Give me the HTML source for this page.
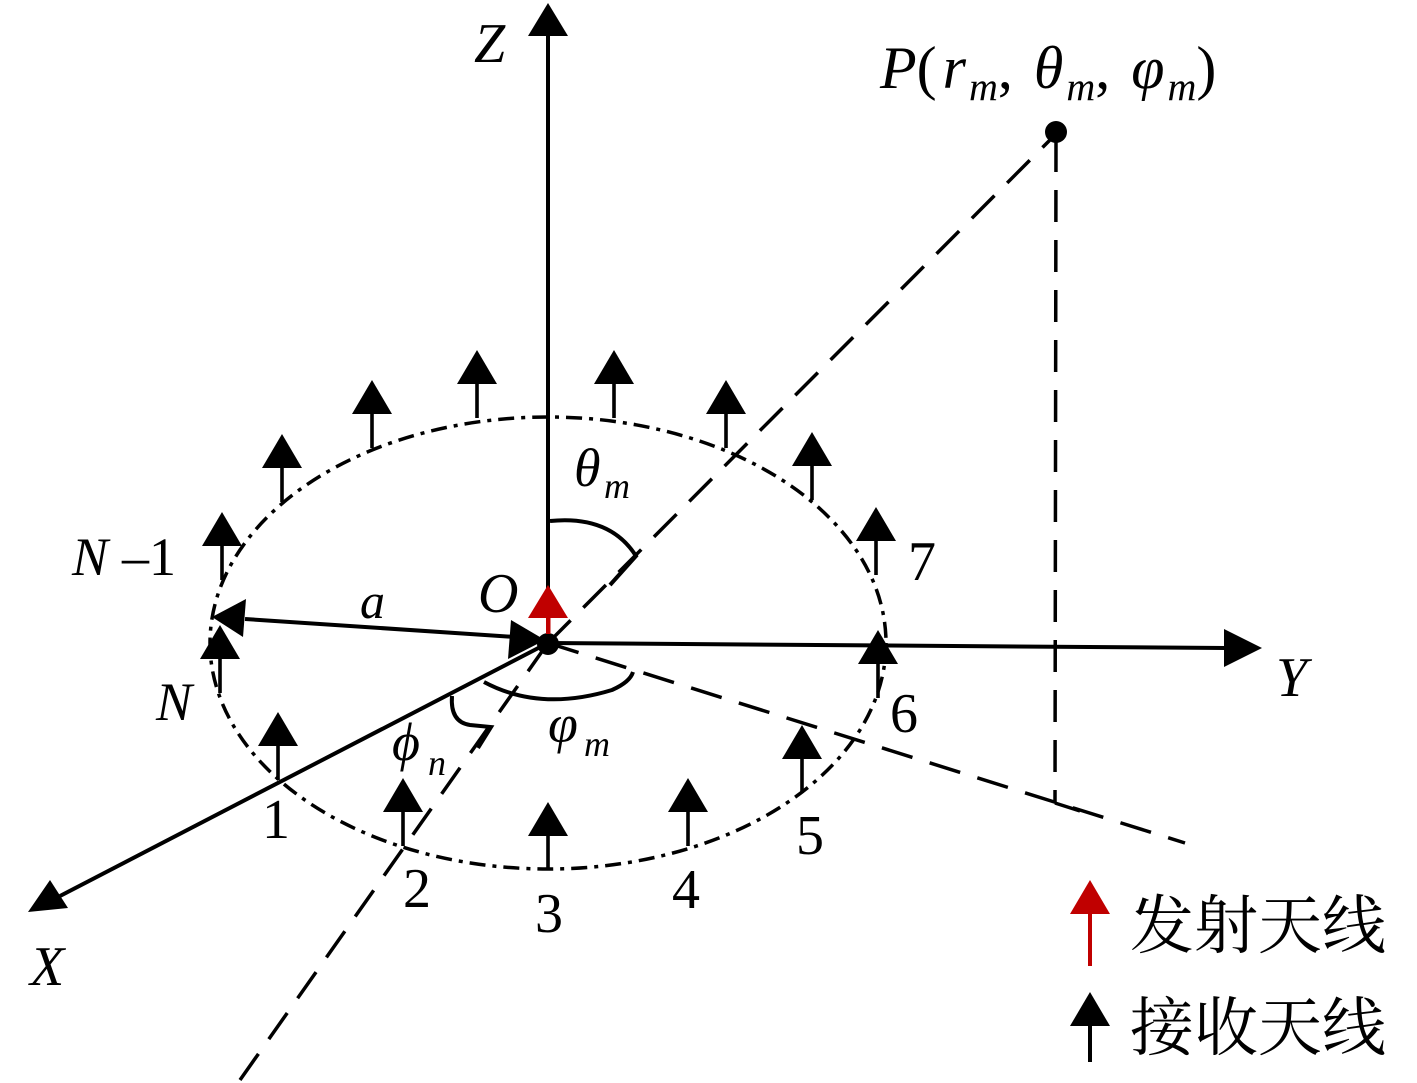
<!DOCTYPE html>
<html><head><meta charset="utf-8"><style>
html,body{margin:0;padding:0;background:#fff;}
svg{display:block;}
.t{font-family:"Liberation Serif",serif;font-style:italic;fill:#000;}
.n{font-family:"Liberation Serif",serif;fill:#000;}
.c{font-family:"Liberation Serif","Noto Serif CJK SC",serif;fill:#000;}
</style></head><body>
<svg width="1417" height="1083" viewBox="0 0 1417 1083" xmlns="http://www.w3.org/2000/svg">
<defs>
<g id="ant"><polygon points="0,0 -20,34 20,34" fill="#000"/><rect x="-1.8" y="30" width="3.6" height="38" fill="#000"/></g>
</defs>
<ellipse cx="548" cy="643" rx="338" ry="226" fill="none" stroke="#000" stroke-width="3.5" stroke-dasharray="16,7,4,7"/>
<g stroke="#000" stroke-width="3.5" fill="none" stroke-dasharray="32,18">
<line x1="240" y1="1080" x2="548" y2="643"/>
<line x1="548" y1="643" x2="1058" y2="132"/>
<line x1="548" y1="643" x2="1185" y2="843"/>
<line x1="1056" y1="140" x2="1055" y2="803"/>
</g>
<line x1="1055" y1="803" x2="1080" y2="811" stroke="#000" stroke-width="3.5"/>
<g stroke="#000" stroke-width="4" fill="none">
<line x1="548" y1="643" x2="548" y2="30"/>
<line x1="548" y1="643" x2="1225" y2="648"/>
<line x1="548" y1="643" x2="60" y2="896"/>
<line x1="245" y1="619" x2="515" y2="637"/>
<path d="M550 521 Q610 515 636 556 L610 585"/>
<path d="M484 682 Q540 712 612 690 Q630 682 633 672"/>
<path d="M452 696 Q450 722 470 725 L491 727 L478 748"/>
</g>
<polygon points="548,3 528,36 568,36" fill="#000"/>
<polygon points="1262,648 1224,629 1224,667" fill="#000"/>
<polygon points="28,912 50,880 68,908" fill="#000"/>
<polygon points="212,617 246,599 243,637" fill="#000"/>
<polygon points="545,640 511,620 508,659" fill="#000"/>
<use href="#ant" x="282" y="434"/>
<use href="#ant" x="372" y="380"/>
<use href="#ant" x="477" y="350"/>
<use href="#ant" x="614" y="350"/>
<use href="#ant" x="726" y="380"/>
<use href="#ant" x="812" y="432"/>
<use href="#ant" x="876" y="507"/>
<use href="#ant" x="878" y="630"/>
<use href="#ant" x="222" y="512"/>
<use href="#ant" x="220" y="625"/>
<use href="#ant" x="278" y="712"/>
<use href="#ant" x="403" y="778"/>
<use href="#ant" x="548" y="802"/>
<use href="#ant" x="688" y="778"/>
<use href="#ant" x="802" y="725"/>
<polygon points="548,585 528,618 568,618" fill="#c00000"/>
<circle cx="548" cy="644" r="11" fill="#000"/>
<rect x="546" y="612" width="4.5" height="22" fill="#c00000"/>
<circle cx="1056" cy="132" r="11" fill="#000"/>
<text class="t" x="474" y="62" font-size="56">Z</text>
<text class="t" x="1276" y="696" font-size="56">Y</text>
<text class="t" x="30" y="985" font-size="56">X</text>
<text class="t" x="478" y="612" font-size="56">O</text>
<text class="t" x="360" y="618" font-size="50">a</text>
<text class="t" x="72" y="575" font-size="54">N</text>
<text class="n" x="122" y="575" font-size="54">–1</text>
<text class="t" x="156" y="720" font-size="54">N</text>
<text class="t" x="574" y="486" font-size="54">θ</text><text class="t" x="604" y="498" font-size="36">m</text>
<text class="t" x="548" y="742" font-size="54">φ</text><text class="t" x="584" y="756" font-size="36">m</text>
<text class="t" x="392" y="760" font-size="54">ϕ</text><text class="t" x="428" y="775" font-size="36">n</text>
<text class="n" x="908" y="580" font-size="56">7</text>
<text class="n" x="890" y="732" font-size="56">6</text>
<text class="n" x="796" y="854" font-size="56">5</text>
<text class="n" x="672" y="908" font-size="56">4</text>
<text class="n" x="535" y="932" font-size="56">3</text>
<text class="n" x="403" y="907" font-size="56">2</text>
<text class="n" x="262" y="838" font-size="56">1</text>
<text x="880" y="88" font-size="60"><tspan class="t">P</tspan><tspan class="n">(</tspan><tspan class="t" dx="6">r</tspan><tspan class="t" font-size="40" dy="12" dx="3">m</tspan><tspan class="n" dy="-12">,  </tspan><tspan class="t" dx="6">θ</tspan><tspan class="t" font-size="40" dy="12" dx="3">m</tspan><tspan class="n" dy="-12">,  </tspan><tspan class="t" dx="6">φ</tspan><tspan class="t" font-size="40" dy="12" dx="3">m</tspan><tspan class="n" dy="-12">)</tspan></text>
<polygon points="1090,880 1070,914 1110,914" fill="#c00000"/>
<rect x="1088" y="910" width="4" height="56" fill="#c00000"/>
<polygon points="1090,992 1070,1026 1110,1026" fill="#000"/>
<rect x="1088" y="1022" width="4" height="40" fill="#000"/>
<text class="c" x="1130" y="948" font-size="64">发射天线</text>
<text class="c" x="1130" y="1050" font-size="64">接收天线</text>
</svg>
</body></html>
